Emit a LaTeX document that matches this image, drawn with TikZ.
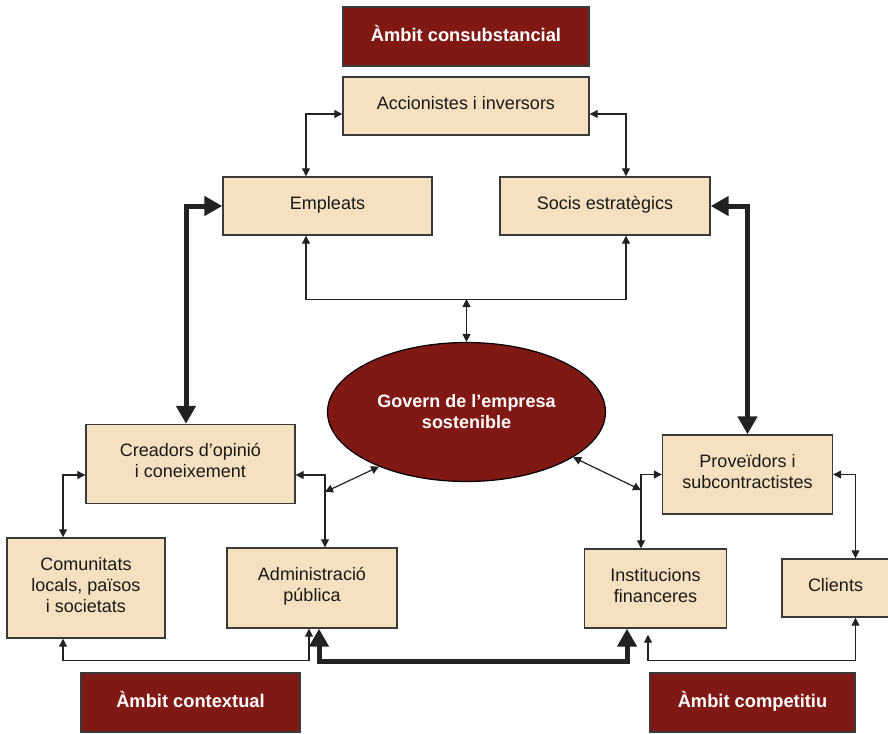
\documentclass[tikz,border=0pt]{standalone}
\usepackage{fontspec}
\setmainfont{Liberation Sans}
\usetikzlibrary{arrows.meta,shapes.geometric,calc}
\definecolor{boxfill}{RGB}{245,225,192}
\definecolor{darkred}{RGB}{128,24,20}
\definecolor{lineC}{RGB}{34,34,34}
\definecolor{borderC}{RGB}{58,58,58}
\begin{document}
\begin{tikzpicture}[x=1pt,y=-1pt,
  every node/.style={font=\fontsize{18}{21}\selectfont, align=center, inner sep=0pt},
  pbox/.style={draw=borderC, line width=1.4pt, fill=boxfill, text=black!90,
               execute at end node={\rule[-7pt]{0pt}{7pt}}},
  rbox/.style={draw=borderC, line width=1.4pt, fill=darkred, text=white, font=\fontsize{18.3}{21}\selectfont\bfseries,
               execute at end node={\rule[-7pt]{0pt}{7pt}}},
  thinc/.style={draw=lineC, line width=1.2pt, {Triangle[length=8pt,width=8pt]}-{Triangle[length=8pt,width=8pt]}},
  thickc/.style={draw=lineC, line width=5pt, {Triangle[length=18pt,width=19pt]}-{Triangle[length=18pt,width=19pt]}}]
\useasboundingbox (0,0) rectangle (888,733);

% nodes
\node[rbox, minimum width=246, minimum height=59] (amb1) at (466,36.5) {Àmbit consubstancial};
\node[pbox, minimum width=246, minimum height=58] (acc) at (466,106) {Accionistes i inversors};
\node[pbox, minimum width=209, minimum height=58] (emp) at (327.5,206) {Empleats};
\node[pbox, minimum width=210, minimum height=58] (soc) at (605,206) {Socis estratègics};
\node[ellipse, draw=black, line width=1.2pt, fill=darkred, text=white, minimum width=278, minimum height=139,
      font=\fontsize{18}{21}\selectfont\bfseries] (gov) at (466.5,412) {Govern de l’empresa\\sostenible};
\node[pbox, minimum width=209, minimum height=79] (cre) at (190.5,464) {Creadors d’opinió\\i coneixement};
\node[pbox, minimum width=158, minimum height=100] (com) at (86,588) {Comunitats\\locals, països\\i societats};
\node[pbox, minimum width=170, minimum height=80] (adm) at (312,588) {Administració\\pública};
\node[rbox, minimum width=219, minimum height=59] (amb2) at (190.5,702.5) {Àmbit contextual};
\node[pbox, minimum width=170, minimum height=79] (pro) at (747.5,474.5) {Proveïdors i\\subcontractistes};
\node[pbox, minimum width=142, minimum height=79] (ins) at (655.5,588.5) {Institucions\\financeres};
\node[pbox, minimum width=107, minimum height=58] (cli) at (835.5,588) {Clients};
\node[rbox, minimum width=205, minimum height=59] (amb3) at (752.5,702.5) {Àmbit competitiu};

\coordinate (jtop) at (466.5,299);
\coordinate (gl) at (325,492);
\coordinate (gr) at (641,490);

% thin connectors
\draw[thinc] ([yshift=-8pt]acc.west) -| ([xshift=-21.5pt]emp.north);
\draw[thinc] ([yshift=-8pt]acc.east) -| ([xshift=21pt]soc.north);
\draw[thinc] ([xshift=-21.5pt]emp.south) -- ++(0,64) -| ([xshift=21pt]soc.south);
\draw[thinc] (jtop) -- (gov.north);
\draw[thinc] ([yshift=-11pt]cre.west) -| ([xshift=-23pt]com.north);
\draw[thinc] ([yshift=-11pt]cre.east) -| ([xshift=13pt]adm.north);
\draw[thinc] (gov.212) -- (gl);
\draw[thinc] (gov.-23) -- (gr);
\draw[thinc] (pro.west) -| ([xshift=-14.5pt]ins.north);
\draw[thinc] (pro.east) -| ([xshift=20pt]cli.north);
\draw[thinc] ([xshift=-23pt]com.south) -- ++(0,22) -| ([xshift=-3pt]adm.south);
\draw[thinc, shorten >=6pt] ([xshift=20pt]cli.south) -- ++(0,43) -| ([xshift=-7.5pt]ins.south);

% thick connectors
\draw[thickc] (emp.west) -| ([xshift=-4.5pt]cre.north);
\draw[thickc] (soc.east) -| (pro.north);
\draw[thickc] ([xshift=7pt]adm.south) -- ++(0,33) -| ([xshift=-28.5pt]ins.south);
\end{tikzpicture}
\end{document}
